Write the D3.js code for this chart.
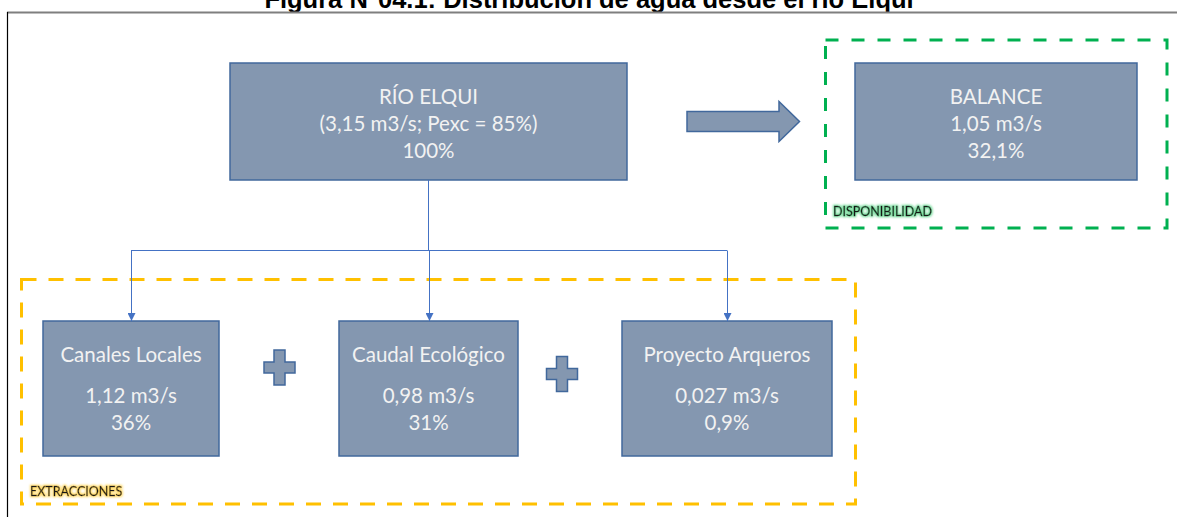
<!DOCTYPE html>
<html><head><meta charset="utf-8">
<script src="https://cdn.jsdelivr.net/npm/d3@7"></script>
<style>body{margin:0;background:#fff}svg{display:block}</style>
</head><body><div id="c"></div>
<script>
// ---- data ----
const title = "Figura N°04.1: Distribución de agua desde el río Elqui";
const sourceName = "RÍO ELQUI";
const sourceFlow = "3,15 m3/s";
const sourcePexc = "85%";
const sourceShare = "100%";
const balanceName = "BALANCE";
const balanceFlow = "1,05 m3/s";
const balanceShare = "32,1%";
const extractionNames = ["Canales Locales", "Caudal Ecológico", "Proyecto Arqueros"];
const extractionFlows = ["1,12 m3/s", "0,98 m3/s", "0,027 m3/s"];
const extractionShares = ["36%", "31%", "0,9%"];
const groupLabels = ["DISPONIBILIDAD", "EXTRACCIONES"];

// ---- layout / style ----
const W = 1177, H = 517;
const FILL = "#8497b0", STROKE = "#41689c", TXT = "#f2f2f2", LINK = "#4472c4";
const FONT = "Lato, 'Open Sans', sans-serif";
const svg = d3.select("#c").append("svg").attr("width", W).attr("height", H);

// title (cut off at top, as in the source) and frame
svg.append("text").attr("x", 589).attr("y", 8).attr("text-anchor", "middle")
  .attr("font-family", "'Liberation Sans', Arial, sans-serif").attr("font-weight", "bold")
  .attr("font-size", 25.5).attr("fill", "#000").text(title);
svg.append("line").attr("x1", 7).attr("x2", W).attr("y1", 12.5).attr("y2", 12.5)
  .attr("stroke", "#7f7f7f").attr("stroke-width", 2);
svg.append("line").attr("x1", 7.5).attr("x2", 7.5).attr("y1", 12).attr("y2", H)
  .attr("stroke", "#000").attr("stroke-width", 1.2);

// defs
const defs = svg.append("defs");
defs.append("marker").attr("id", "tri").attr("viewBox", "0 0 10 10").attr("refX", 10).attr("refY", 5)
  .attr("markerWidth", 8).attr("markerHeight", 8).attr("markerUnits", "userSpaceOnUse").attr("orient", "auto")
  .append("path").attr("d", "M0,0L10,5L0,10Z").attr("fill", LINK);
function glow(id, color) {
  const f = defs.append("filter").attr("id", id).attr("x", "-20%").attr("y", "-60%").attr("width", "140%").attr("height", "220%");
  f.append("feMorphology").attr("in", "SourceAlpha").attr("operator", "dilate").attr("radius", 0.7).attr("result", "d");
  f.append("feGaussianBlur").attr("in", "d").attr("stdDeviation", 1.1).attr("result", "b");
  f.append("feFlood").attr("flood-color", color).attr("flood-opacity", 0.85).attr("result", "c");
  f.append("feComposite").attr("in", "c").attr("in2", "b").attr("operator", "in").attr("result", "g");
  const m = f.append("feMerge"); m.append("feMergeNode").attr("in", "g"); m.append("feMergeNode").attr("in", "SourceGraphic");
}
glow("gG", "#5fd58a"); glow("gY", "#ffd24a");

// group dashed frames
const groups = [
  {x: 825.5, y: 40, w: 341.5, h: 188, color: "#00b050", dash: "13,13", lx: 833, ly: 215.5, f: "gG"},
  {x: 21.5, y: 279.5, w: 834, h: 224.5, color: "#ffc000", dash: "15,12", lx: 30, ly: 495.5, f: "gY"}
];
groups.forEach(g => {
  svg.append("rect").attr("x", g.x).attr("y", g.y).attr("width", g.w).attr("height", g.h)
    .attr("fill", "none").attr("stroke", g.color).attr("stroke-width", 3).attr("stroke-dasharray", g.dash);
});

// boxes
function box(x, y, w, h, lines, ys) {
  svg.append("rect").attr("x", x).attr("y", y).attr("width", w).attr("height", h)
    .attr("fill", FILL).attr("stroke", STROKE).attr("stroke-width", 1.5);
  svg.append("g").selectAll("text").data(lines).join("text")
    .attr("x", x + w / 2).attr("y", (d, i) => ys[i]).attr("text-anchor", "middle")
    .attr("font-family", FONT).attr("font-size", 20.5).attr("fill", TXT).text(d => d);
}
box(230, 63, 397, 117, [sourceName, `(${sourceFlow}; Pexc = ${sourcePexc})`, sourceShare], [103.5, 131, 158]);
box(855, 63, 282, 117, [balanceName, balanceFlow, balanceShare], [103.5, 131, 158]);

const ex = d3.scaleOrdinal().domain(extractionNames).range([[43, 176], [339, 179], [622, 210]]);
extractionNames.forEach((n, i) => {
  const [x, w] = ex(n);
  box(x, 321, w, 135, [n, extractionFlows[i], extractionShares[i]], [361.5, 402.5, 429.5]);
});

// connectors
const LINK_Y = 250.5;
const cx = extractionNames.map(n => ex(n)[0] + ex(n)[1] / 2);
svg.append("line").attr("x1", 428.5).attr("x2", 428.5).attr("y1", 180).attr("y2", LINK_Y)
  .attr("stroke", LINK).attr("stroke-width", 1);
svg.append("line").attr("x1", d3.min(cx)).attr("x2", d3.max(cx)).attr("y1", LINK_Y).attr("y2", LINK_Y)
  .attr("stroke", LINK).attr("stroke-width", 1);
cx.forEach(x => {
  svg.append("line").attr("x1", Math.round(x) + 0.5).attr("x2", Math.round(x) + 0.5).attr("y1", LINK_Y).attr("y2", 321)
    .attr("stroke", LINK).attr("stroke-width", 1).attr("marker-end", "url(#tri)");
});

// block arrow
svg.append("path").attr("d", "M687,111.5 L779,111.5 L779,101.5 L799.5,121.5 L779,141.5 L779,131.5 L687,131.5 Z")
  .attr("fill", FILL).attr("stroke", STROKE).attr("stroke-width", 1.5);

// plus signs
[[279.5, 367.5], [562, 374]].forEach(([px, py]) => {
  const a = 15.5, b = 17.5, t = 5.5;
  svg.append("path").attr("d",
    `M${px - t},${py - b} H${px + t} V${py - t} H${px + a} V${py + t} H${px + t} V${py + b} H${px - t} V${py + t} H${px - a} V${py - t} H${px - t} Z`)
    .attr("fill", FILL).attr("stroke", STROKE).attr("stroke-width", 1.5);
});

// group labels
groups.forEach((g, i) => {
  svg.append("text").attr("x", g.lx).attr("y", g.ly).attr("font-family", FONT).attr("font-size", 12.5)
    .attr("fill", "#1a1a1a").attr("stroke", "#1a1a1a").attr("stroke-width", 0.35)
    .attr("filter", `url(#${g.f})`).text(groupLabels[i]);
});
</script></body></html>
